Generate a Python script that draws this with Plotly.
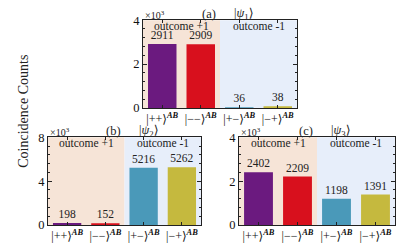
import plotly.graph_objects as go

categories = ["|++⟩<sup><b><i>AB</i></b></sup>", "|−−⟩<sup><b><i>AB</i></b></sup>",
              "|+−⟩<sup><b><i>AB</i></b></sup>", "|−+⟩<sup><b><i>AB</i></b></sup>"]
counts_a = [2911, 2909, 36, 38]
counts_b = [198, 152, 5216, 5262]
counts_c = [2402, 2209, 1198, 1391]
bar_colors = ["#6b1a7f", "#d8101d", "#4a99b9", "#c5b93e"]
panel_letters = ["(a)", "(b)", "(c)"]
panel_states = ["|<i>ψ</i><sub>1</sub>⟩", "|<i>ψ</i><sub>2</sub>⟩", "|<i>ψ</i><sub>3</sub>⟩"]
y_max = [4, 8, 4]
region_labels = ["outcome +1", "outcome -1"]

FONT = "Liberation Serif, Times New Roman, DejaVu Serif, serif"
W, H = 399, 250

# pixel boxes (left, right, top, bottom)
boxes = [(143, 297, 14, 107), (48, 201, 138, 231), (239, 395, 138, 231)]

fig = go.Figure()
datasets = [counts_a, counts_b, counts_c]
for i, (vals, box) in enumerate(zip(datasets, boxes)):
    n = "" if i == 0 else str(i + 1)
    xa, ya = "x" + n, "y" + n
    l, r, t, b = box
    fig.add_trace(go.Bar(
        x=list(range(4)), y=[v / 1000 for v in vals],
        marker=dict(color=bar_colors, line=dict(width=0)),
        text=[str(v) for v in vals], textposition="outside",
        textfont=dict(family=FONT, size=11.5, color="#222"),
        cliponaxis=False, width=0.74,
        xaxis=xa, yaxis=ya, showlegend=False, hoverinfo="skip"))
    ymx = y_max[i]
    fig.update_layout(**{
        "xaxis" + n: dict(domain=[l / W, r / W], range=[-0.5, 3.5],
                          tickmode="array", tickvals=list(range(4)), ticktext=categories,
                          ticks="inside", ticklen=3, tickcolor="#222",
                          showline=True, linecolor="#222", linewidth=1, mirror="ticks",
                          showgrid=False, zeroline=False, anchor=ya,
                          tickfont=dict(family=FONT, size=12, color="#111")),
        "yaxis" + n: dict(domain=[1 - b / H, 1 - t / H], range=[0, ymx],
                          tickvals=[0, ymx / 2, ymx], ticks="inside", ticklen=4, tickcolor="#222",
                          minor=dict(dtick=ymx / 10, ticks="inside", ticklen=2, tickcolor="#222"),
                          showline=True, linecolor="#222", linewidth=1, mirror="ticks",
                          showgrid=False, zeroline=False, anchor=xa,
                          tickfont=dict(family=FONT, size=12.5, color="#111")),
    })
    fig.add_shape(type="rect", xref=xa, yref=ya + " domain", x0=-0.5, x1=1.5, y0=0, y1=1,
                  fillcolor="#f6e4d7", line=dict(width=0), layer="below")
    fig.add_shape(type="rect", xref=xa, yref=ya + " domain", x0=1.5, x1=3.5, y0=0, y1=1,
                  fillcolor="#e7eefa", line=dict(width=0), layer="below")
    for k, lab in enumerate(region_labels):
        fig.add_annotation(x=0.5 + 2 * k, y=1, xref=xa, yref=ya + " domain",
                           text=lab, showarrow=False, yanchor="top", yshift=2,
                           font=dict(family=FONT, size=11.5, color="#222"))
    # header texts
    fig.add_annotation(x=0, y=1, xref=xa + " domain", yref=ya + " domain",
                       text="×10<sup>3</sup>", showarrow=False, xanchor="left", yanchor="bottom",
                       yshift=-3, font=dict(family=FONT, size=10, color="#222"))
    fig.add_annotation(x=1.5, y=1, xref=xa, yref=ya + " domain",
                       text=panel_letters[i], showarrow=False, xanchor="right", yanchor="bottom",
                       xshift=-2, yshift=-3, font=dict(family=FONT, size=12.5, color="#222"))
    fig.add_annotation(x=1.5, y=1, xref=xa, yref=ya + " domain",
                       text=panel_states[i], showarrow=False, xanchor="left", yanchor="bottom",
                       xshift=12, yshift=-4, font=dict(family=FONT, size=12.5, color="#222"))

fig.add_annotation(x=24 / W, y=1 - 111 / H, xref="paper", yref="paper",
                   text="Coincidence Counts", textangle=-90, showarrow=False,
                   xanchor="center", yanchor="middle",
                   font=dict(family=FONT, size=14, color="#222"))

fig.update_layout(width=W, height=H, margin=dict(l=0, r=0, t=0, b=0),
                  paper_bgcolor="white", plot_bgcolor="rgba(0,0,0,0)", bargap=0.26)
fig.write_html("out.html", config={"displayModeBar": False},
               post_script="document.body.style.margin='0px';document.body.style.padding='0px';")
